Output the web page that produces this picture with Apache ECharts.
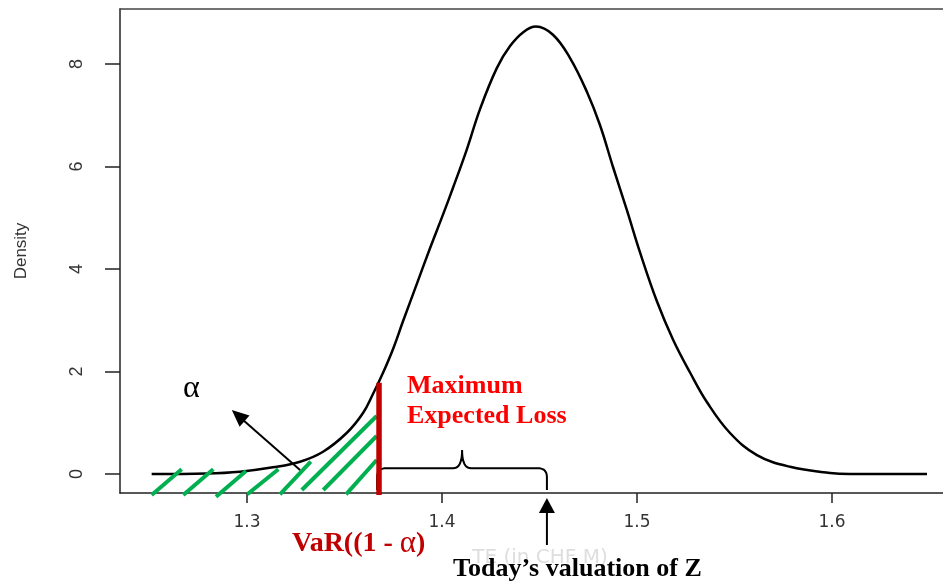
<!DOCTYPE html>
<html><head><meta charset="utf-8">
<script src="https://cdn.jsdelivr.net/npm/echarts@6/dist/echarts.min.js"></script>
<style>html,body{margin:0;padding:0;background:#fff}#c{width:943px;height:585px}</style>
</head><body><div id="c"></div>
<script>
// ---- data ----
const xValues = [1.2511,1.2793,1.2964,1.3133,1.3272,1.3390,1.3511,1.3595,1.3646,1.3697,1.3750,1.3800,1.3870,1.3938,1.4005,1.4056,1.4127,1.4195,1.4281,1.4349,1.4420,1.4482,1.4569,1.4656,1.4744,1.4810,1.4877,1.4949,1.5015,1.5103,1.5185,1.5272,1.5359,1.5477,1.5615,1.5785,1.5990,1.6092,1.6487];
const densityValues = [0.0,0.01,0.045,0.13,0.24,0.435,0.80,1.19,1.56,1.97,2.45,2.98,3.70,4.40,5.06,5.58,6.33,7.12,7.92,8.35,8.63,8.73,8.57,8.12,7.45,6.81,5.99,5.14,4.33,3.36,2.62,1.98,1.40,0.80,0.37,0.14,0.02,0.0,0.0];
const xTicks = [1.3, 1.4, 1.5, 1.6];
const yTicks = [0, 2, 4, 6, 8];
// hatching of the alpha tail (data coordinates)
const hatchSegments = [
  [[1.2511,-0.41],[1.2665,0.092]],
  [[1.2673,-0.41],[1.2827,0.092]],
  [[1.2841,-0.443],[1.2995,0.059]],
  [[1.3002,-0.396],[1.3161,0.092]],
  [[1.3169,-0.396],[1.3327,0.24]],
  [[1.3281,-0.312],[1.3665,1.132]],
  [[1.3391,-0.312],[1.3665,0.741]],
  [[1.3508,-0.396],[1.3665,0.273]]
];
const varX = 1.3677, varTop = 1.78, varBottom = -0.41;
const alphaArrow = [[1.3272,0.078],[1.2922,1.249]];
const todayX = 1.4538, todayTail = -1.385, todayTip = -0.468;
const braceLeft = 1.3667, braceRight = 1.4538, braceMid = 1.4103, braceY = 0.112, bracePeak = 0.468, braceEnd = -0.31;

const X_MIN = 1.23487, X_MAX = 1.65692, Y_MIN = -0.3707, Y_MAX = 9.073;
const chart = echarts.init(document.getElementById('c'));
const axisFont = 'DejaVu Sans';
const dark = '#222';
chart.setOption({
  animation: false,
  grid: {left: 120, top: 9, bottom: 92, right: 0},
  xAxis: [{
    type: 'value', min: X_MIN, max: X_MAX,
    name: 'TE (in CHF M)', nameLocation: 'middle', nameGap: 55,
    nameTextStyle: {color: '#dedede', fontFamily: axisFont, fontSize: 20, padding: [0, 0, 0, 17]},
    axisLine: {show: true, onZero: false, lineStyle: {color: dark, width: 1.5}}, splitLine: {show: false},
    axisTick: {show: true, customValues: xTicks, length: 10, lineStyle: {color: dark, width: 1.5}},
    axisLabel: {customValues: xTicks, formatter: v => v.toFixed(1), margin: 21, color: '#333', fontFamily: axisFont, fontSize: 17}
  }, {
    type: 'value', position: 'top', min: X_MIN, max: X_MAX,
    axisLine: {show: true, onZero: false, lineStyle: {color: '#444', width: 1.5}},
    axisTick: {show: false}, axisLabel: {show: false}, splitLine: {show: false}
  }],
  yAxis: {
    type: 'value', min: Y_MIN, max: Y_MAX,
    name: 'Density', nameLocation: 'middle', nameRotate: 90, nameGap: 90,
    nameTextStyle: {color: '#333', fontFamily: 'Liberation Sans', fontSize: 17},
    axisLine: {show: true, onZero: false, lineStyle: {color: dark, width: 1.5}}, splitLine: {show: false},
    axisTick: {show: true, customValues: yTicks, length: 15, lineStyle: {color: dark, width: 1.5}},
    axisLabel: {customValues: yTicks, rotate: 90, margin: 34, color: '#333', fontFamily: 'Liberation Sans', fontSize: 18}
  },
  series: [{
    type: 'line', data: xValues.map((x, i) => [x, densityValues[i]]),
    smooth: 0.4, showSymbol: false, lineStyle: {color: '#000', width: 2.5}, z: 3
  }]
});

const P = (x, y) => chart.convertToPixel({gridIndex: 0}, [x, y]);
const g = [];
hatchSegments.forEach(s => {
  const a = P(s[0][0], s[0][1]), b = P(s[1][0], s[1][1]);
  g.push({type: 'line', shape: {x1: a[0], y1: a[1], x2: b[0], y2: b[1]}, style: {stroke: '#00b050', lineWidth: 4}, z: 10});
});
// VaR bar
(function(){
  const a = P(varX, varTop), b = P(varX, varBottom);
  g.push({type: 'line', shape: {x1: a[0], y1: a[1], x2: b[0], y2: b[1]}, style: {stroke: '#c00000', lineWidth: 5.5}, z: 12});
})();
function arrow(t, h, headLen, headW) {
  const dx = h[0] - t[0], dy = h[1] - t[1], L = Math.hypot(dx, dy), ux = dx / L, uy = dy / L;
  const bx = h[0] - ux * headLen, by = h[1] - uy * headLen;
  g.push({type: 'line', shape: {x1: t[0], y1: t[1], x2: bx + ux * 2, y2: by + uy * 2}, style: {stroke: '#000', lineWidth: 2}, z: 13});
  g.push({type: 'polygon', shape: {points: [[h[0], h[1]], [bx - uy * headW, by + ux * headW], [bx + uy * headW, by - ux * headW]]}, style: {fill: '#000'}, z: 13});
}
arrow(P(alphaArrow[0][0], alphaArrow[0][1]), P(alphaArrow[1][0], alphaArrow[1][1]), 17, 7.5);
arrow(P(todayX, todayTail), P(todayX, todayTip), 15, 8);
// brace as polyline
(function(){
  const L = P(braceLeft, braceEnd), R = P(braceRight, braceEnd), M = P(braceMid, bracePeak), yb = P(braceMid, braceY)[1];
  const r = 9, pts = [];
  function quad(p0, p1, p2) {
    for (let i = 0; i <= 10; i++) {
      const t = i / 10, a = (1 - t) * (1 - t), b = 2 * (1 - t) * t, c = t * t;
      pts.push([a * p0[0] + b * p1[0] + c * p2[0], a * p0[1] + b * p1[1] + c * p2[1]]);
    }
  }
  pts.push([L[0], L[1]]);
  quad([L[0], yb + r], [L[0], yb], [L[0] + r, yb]);
  quad([M[0] - r, yb], [M[0], yb], [M[0], M[1]]);
  quad([M[0], M[1]], [M[0], yb], [M[0] + r, yb]);
  quad([R[0] - r, yb], [R[0], yb], [R[0], yb + r]);
  pts.push([R[0], R[1]]);
  g.push({type: 'polyline', shape: {points: pts}, style: {stroke: '#000', lineWidth: 2, fill: null}, z: 11});
})();
const serif = 'Liberation Serif';
g.push({type: 'text', x: 191.5, y: 389, style: {text: '\u03b1', font: '32px ' + serif, fill: '#000', align: 'center', verticalAlign: 'middle'}, z: 14});
g.push({type: 'text', x: 407, y: 386, style: {text: 'Maximum', font: 'bold 26px ' + serif, fill: '#ff0000', align: 'left', verticalAlign: 'middle'}, z: 14});
g.push({type: 'text', x: 407, y: 416, style: {text: 'Expected Loss', font: 'bold 26px ' + serif, fill: '#ff0000', align: 'left', verticalAlign: 'middle'}, z: 14});
g.push({type: 'text', x: 292, y: 544, style: {
  text: '{b|VaR((1 - }{a|\u03b1}{b|)}', align: 'left', verticalAlign: 'middle',
  rich: {b: {font: 'bold 28px ' + serif, fill: '#c00000'}, a: {font: '31px ' + serif, fill: '#c00000'}}
}, z: 14});
g.push({type: 'text', x: 453, y: 569, style: {text: 'Today\u2019s valuation of Z', font: 'bold 26px ' + serif, fill: '#000', align: 'left', verticalAlign: 'middle'}, z: 14});
chart.setOption({graphic: g});
</script>
</body></html>
